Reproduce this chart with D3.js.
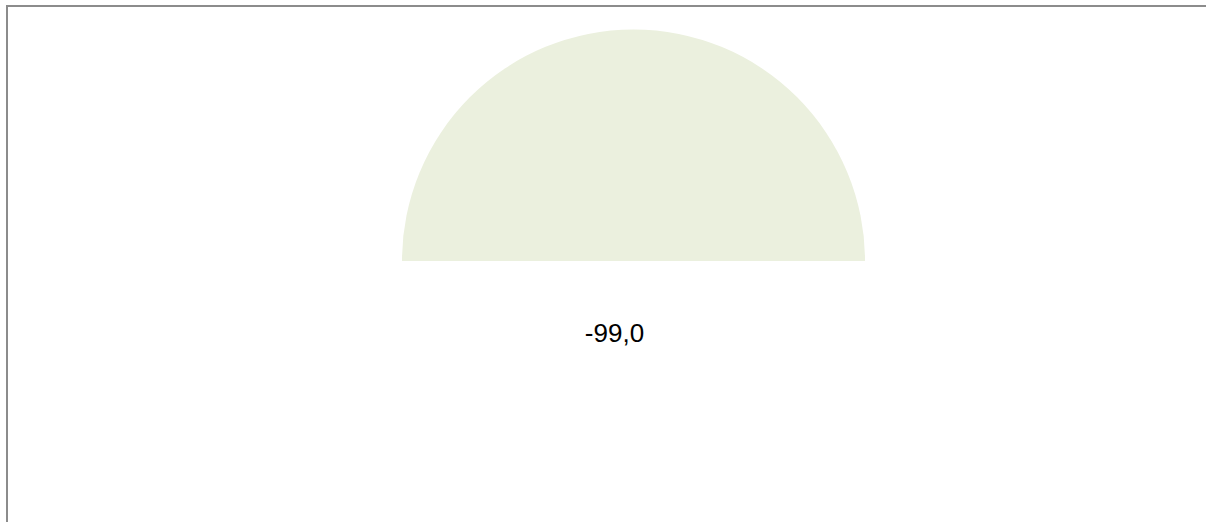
<!DOCTYPE html>
<html>
<head>
<meta charset="utf-8">
<script src="https://cdn.jsdelivr.net/npm/d3@7"></script>
<style>
  html, body { margin: 0; padding: 0; background: #fff; overflow: hidden; }
  #frame { position: absolute; left: 6px; top: 5px; width: 1400px; height: 700px; border: 2px solid #8c8c8c; box-sizing: border-box; }
  svg { position: absolute; left: 0; top: 0; }
</style>
</head>
<body>
<div id="frame"></div>
<svg id="chart" width="1206" height="522"></svg>
<script>
const gaugeMin = 0;
const gaugeMax = 100;
const gaugeValue = -99.0;
const valueLabels = ["-99,0"];

const svg = d3.select("#chart");
const cx = 633.5, cy = 261, outerR = 231.5;

const angle = d3.scaleLinear().domain([gaugeMin, gaugeMax]).range([-Math.PI / 2, Math.PI / 2]).clamp(true);
const arc = d3.arc().innerRadius(0).outerRadius(outerR);

const g = svg.append("g").attr("transform", `translate(${cx},${cy})`);
g.append("path")
  .attr("d", arc({ startAngle: angle(gaugeMin), endAngle: angle(gaugeMax) }))
  .attr("fill", "#ebf0de");

const valEnd = angle(gaugeValue);
if (valEnd > angle(gaugeMin)) {
  g.append("path")
    .attr("d", arc({ startAngle: angle(gaugeMin), endAngle: valEnd }))
    .attr("fill", "#9bbb59");
}

svg.append("text")
  .attr("x", 614.5)
  .attr("y", 342)
  .attr("text-anchor", "middle")
  .attr("font-family", "Liberation Sans, Arial, sans-serif")
  .attr("font-size", 26)
  .attr("fill", "#000")
  .text(valueLabels[0]);
</script>
</body>
</html>
